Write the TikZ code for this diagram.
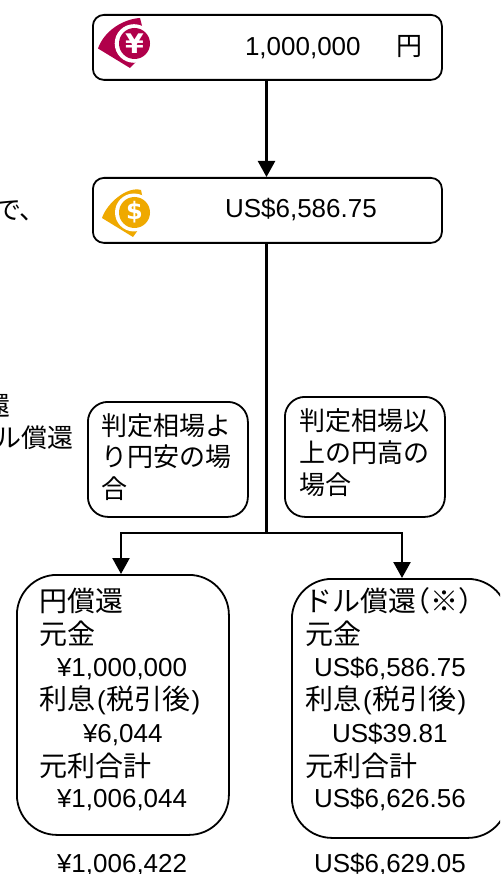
\documentclass[tikz,border=0pt]{standalone}
\usepackage{fontspec}
\setmainfont{Liberation Sans}
\newfontfamily\cjk{Noto Sans CJK JP}
\newfontfamily\symb{DejaVu Sans Bold}
\newcommand{\J}[1]{{\cjk #1}}
\newcommand{\JL}[1]{{\cjk\fontsize{28}{28}\selectfont #1}}
\definecolor{yencol}{HTML}{B0004A}
\definecolor{usdcol}{HTML}{EFA900}
\usetikzlibrary{arrows.meta}
\tikzset{
  box/.style={draw=black,line width=1.8pt,fill=white,inner sep=0pt,anchor=north west},
  conn/.style={draw=black,line width=2.4pt},
  arr/.style={conn,-{Triangle[length=16pt,width=17pt]}},
  txt/.style={anchor=base west,inner sep=0pt,outer sep=0pt,font=\fontsize{26}{26}\selectfont,text=black},
}
\begin{document}
\begin{tikzpicture}[x=1pt,y=-1pt]
\useasboundingbox (0,0) rectangle (500,874);
\clip (0,0) rectangle (500,874);
\fill[white] (0,0) rectangle (500,874);
% boxes
\node[box,rounded corners=11pt,minimum width=349pt,minimum height=65pt] (top) at (92,14) {};
\node[box,rounded corners=11pt,minimum width=349pt,minimum height=65pt] (mid) at (92,177) {};
\node[box,rounded corners=20pt,minimum width=160pt,minimum height=115pt] (condL) at (87,401) {};
\node[box,rounded corners=20pt,minimum width=160pt,minimum height=120pt] (condR) at (284,396) {};
\node[box,rounded corners=40pt,minimum width=212pt,minimum height=260pt] (resL) at (16,574) {};
\node[box,rounded corners=40pt,minimum width=216pt,minimum height=259pt] (resR) at (291,578) {};
% connectors
\coordinate (junc) at (266.5,533);
\draw[arr] (top.south -| junc) -- (mid.north -| junc);
\draw[conn] (mid.south -| junc) -- (junc);
\draw[arr] (junc) -| (resL.north -| 121,0);
\draw[arr] (junc) -| (resR.north -| 402,0);
% yen icon
\fill[yencol] (98,48.5) .. controls (104,31) and (123,19) .. (140,18) -- (143,30) -- (135,50) -- (136,62) -- (130,68) -- cycle;
\fill[white] (134,43.5) circle (19.3);
\fill[yencol] (134.5,43.5) circle (15.5);
\node[inner sep=0pt,text=white,font=\symb\fontsize{27}{27}\selectfont] (yen) at (134.5,43.5) {¥};
% dollar icon
\fill[usdcol] (102,218) .. controls (107,203) and (127,186) .. (141,190) -- (143.5,202) -- (135,218) -- (138,230) -- (133,237) -- cycle;
\fill[white] (134,212.5) circle (19);
\fill[usdcol] (134.5,212.5) circle (15.5);
\node[inner sep=0pt,text=white,font=\symb\fontsize{24}{24}\selectfont] (usd) at (134.5,212.5) {\$};
% texts
\node[txt] (t1) at (245,56) {1,000,000};
\node[txt] (t2) at (396,56) {\J{円}};
\node[txt] (t3) at (225,218) {US\$6,586.75};
\node[txt] (l1) at (-5,220) {\J{で、}};
\node[txt] (l2) at (-16,415) {\J{還}};
\node[txt] (l3) at (-5,447) {\J{ル償還}};
\node[txt] (c1) at (101,435) {\J{判定相場よ}};
\node[txt] (c2) at (101,466) {\J{り円安の場}};
\node[txt] (c3) at (101,498) {\J{合}};
\node[txt] (d1) at (299,430) {\J{判定相場以}};
\node[txt] (d2) at (299,462) {\J{上の円高の}};
\node[txt] (d3) at (299,494) {\J{場合}};
\node[txt] (a1) at (39,611) {\JL{円償還}};
\node[txt] (a2) at (39,644) {\JL{元金}};
\node[txt] (a3) at (57,676) {¥1,000,000};
\node[txt] (a4) at (39,709) {\JL{利息}\hspace{2pt}(\hspace{1pt}\JL{税引後}\hspace{1pt})};
\node[txt] (a5) at (83,742) {¥6,044};
\node[txt] (a6) at (39,776) {\JL{元利合計}};
\node[txt] (a7) at (57,807) {¥1,006,044};
\node[txt] (a8) at (57,872) {¥1,006,422};
\node[txt] (b1) at (304,611) {\JL{ドル償還\hspace{-14pt}（※）}};
\node[txt] (b2) at (305,644) {\JL{元金}};
\node[txt] (b3) at (314,676) {US\$6,586.75};
\node[txt] (b4) at (305,709) {\JL{利息}\hspace{2pt}(\hspace{1pt}\JL{税引後}\hspace{1pt})};
\node[txt] (b5) at (332,742) {US\$39.81};
\node[txt] (b6) at (305,776) {\JL{元利合計}};
\node[txt] (b7) at (314,807) {US\$6,626.56};
\node[txt] (b8) at (314,872) {US\$6,629.05};
\end{tikzpicture}
\end{document}
